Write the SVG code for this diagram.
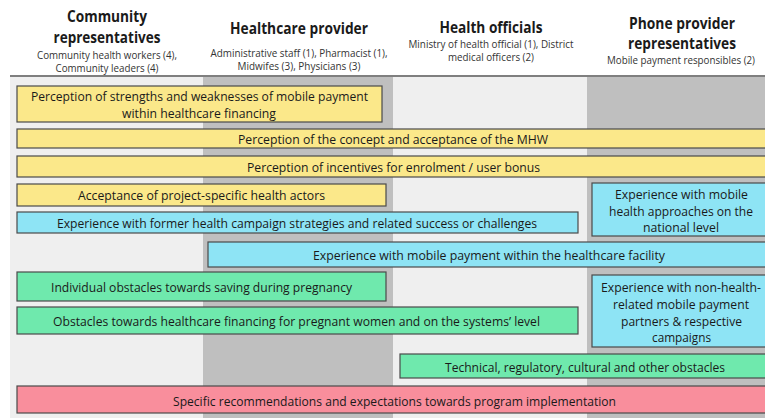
<svg xmlns="http://www.w3.org/2000/svg" width="765" height="418" viewBox="0 0 765 418">
  <style>
    text { font-family: "Open Sans", "Liberation Sans", sans-serif; fill: #1a1a1a; text-anchor: middle; }
    .title { font-size: 16.5px; font-weight: bold; }
    .sub { font-size: 10.5px; fill: #333; }
    .lbl { font-size: 13.5px; }
    .box { stroke: #4a4a4a; stroke-width: 1.2; }
    .yellow { fill: #fbe88a; }
    .cyan { fill: #8ee4f5; }
    .green { fill: #6fe9ad; }
    .pink { fill: #f98e9c; }
  </style>

  <!-- background -->
  <rect x="0" y="0" width="765" height="418" fill="#ffffff"/>

  <!-- stakeholder column bands -->
  <g id="columns">
    <rect x="10" y="77" width="193" height="341" fill="#efefef"/>
    <rect x="203" y="77" width="190" height="341" fill="#bfbfbf"/>
    <rect x="393" y="77" width="194" height="341" fill="#efefef"/>
    <rect x="587" y="77" width="178" height="341" fill="#bfbfbf"/>
    <line x1="10" y1="76" x2="765" y2="76" stroke="#555" stroke-width="1.5"/>
  </g>

  <!-- column headers -->
  <g id="header-community">
    <text class="title" x="107" y="22" textLength="80" lengthAdjust="spacingAndGlyphs">Community</text>
    <text class="title" x="107" y="43" textLength="107" lengthAdjust="spacingAndGlyphs">representatives</text>
    <text class="sub" x="107" y="59" textLength="140" lengthAdjust="spacingAndGlyphs">Community health workers (4),</text>
    <text class="sub" x="107" y="72" textLength="103" lengthAdjust="spacingAndGlyphs">Community leaders (4)</text>
  </g>
  <g id="header-healthcare">
    <text class="title" x="299" y="34" textLength="138" lengthAdjust="spacingAndGlyphs">Healthcare provider</text>
    <text class="sub" x="299" y="57" textLength="177" lengthAdjust="spacingAndGlyphs">Administrative staff (1), Pharmacist (1),</text>
    <text class="sub" x="299" y="70" textLength="123" lengthAdjust="spacingAndGlyphs">Midwifes (3), Physicians (3)</text>
  </g>
  <g id="header-officials">
    <text class="title" x="491" y="33" textLength="103" lengthAdjust="spacingAndGlyphs">Health officials</text>
    <text class="sub" x="491" y="48" textLength="165" lengthAdjust="spacingAndGlyphs">Ministry of health official (1), District</text>
    <text class="sub" x="491" y="61" textLength="86" lengthAdjust="spacingAndGlyphs">medical officers (2)</text>
  </g>
  <g id="header-phone">
    <text class="title" x="682" y="29" textLength="106" lengthAdjust="spacingAndGlyphs">Phone provider</text>
    <text class="title" x="682" y="49" textLength="108" lengthAdjust="spacingAndGlyphs">representatives</text>
    <text class="sub" x="681" y="64" textLength="148" lengthAdjust="spacingAndGlyphs">Mobile payment responsibles (2)</text>
  </g>

  <!-- theme bars -->
  <g id="strengths-weaknesses">
    <rect class="box yellow" x="17" y="86" width="365" height="36"/>
    <text class="lbl" x="199.5" y="101" textLength="337" lengthAdjust="spacingAndGlyphs">Perception of strengths and weaknesses of mobile payment</text>
    <text class="lbl" x="199" y="118" textLength="154" lengthAdjust="spacingAndGlyphs">within healthcare financing</text>
  </g>
  <g id="concept-acceptance">
    <rect class="box yellow" x="17" y="129" width="760" height="19"/>
    <text class="lbl" x="393" y="143.5" textLength="310" lengthAdjust="spacingAndGlyphs">Perception of the concept and acceptance of the MHW</text>
  </g>
  <g id="incentives">
    <rect class="box yellow" x="17" y="156" width="760" height="21"/>
    <text class="lbl" x="393.5" y="171.5" textLength="293" lengthAdjust="spacingAndGlyphs">Perception of incentives for enrolment / user bonus</text>
  </g>
  <g id="health-actors">
    <rect class="box yellow" x="17" y="184" width="369" height="22"/>
    <text class="lbl" x="201.5" y="200" textLength="247" lengthAdjust="spacingAndGlyphs">Acceptance of project-specific health actors</text>
  </g>
  <g id="former-campaigns">
    <rect class="box cyan" x="17" y="212" width="561" height="21"/>
    <text class="lbl" x="297" y="227.5" textLength="480" lengthAdjust="spacingAndGlyphs">Experience with former health campaign strategies and related success or challenges</text>
  </g>
  <g id="mobile-health-national">
    <rect class="box cyan" x="592" y="183" width="180" height="53"/>
    <text class="lbl" x="681.5" y="199" textLength="133" lengthAdjust="spacingAndGlyphs">Experience with mobile</text>
    <text class="lbl" x="681" y="215.5" textLength="144" lengthAdjust="spacingAndGlyphs">health approaches on the</text>
    <text class="lbl" x="681" y="232" textLength="76" lengthAdjust="spacingAndGlyphs">national level</text>
  </g>
  <g id="payment-facility">
    <rect class="box cyan" x="208" y="242" width="570" height="25"/>
    <text class="lbl" x="489" y="260" textLength="352" lengthAdjust="spacingAndGlyphs">Experience with mobile payment within the healthcare facility</text>
  </g>
  <g id="saving-obstacles">
    <rect class="box green" x="17" y="272" width="369" height="29"/>
    <text class="lbl" x="201.5" y="292" textLength="301" lengthAdjust="spacingAndGlyphs">Individual obstacles towards saving during pregnancy</text>
  </g>
  <g id="non-health-payment">
    <rect class="box cyan" x="592" y="275" width="180" height="72"/>
    <text class="lbl" x="681" y="292" textLength="160" lengthAdjust="spacingAndGlyphs">Experience with non-health-</text>
    <text class="lbl" x="681" y="308.5" textLength="136" lengthAdjust="spacingAndGlyphs">related mobile payment</text>
    <text class="lbl" x="681.5" y="325.5" textLength="121" lengthAdjust="spacingAndGlyphs">partners &amp; respective</text>
    <text class="lbl" x="681.5" y="342" textLength="59" lengthAdjust="spacingAndGlyphs">campaigns</text>
  </g>
  <g id="financing-obstacles">
    <rect class="box green" x="17" y="307" width="561" height="27"/>
    <text class="lbl" x="296.5" y="326" textLength="487" lengthAdjust="spacingAndGlyphs">Obstacles towards healthcare financing for pregnant women and on the systems’ level</text>
  </g>
  <g id="other-obstacles">
    <rect class="box green" x="400" y="354" width="370" height="24"/>
    <text class="lbl" x="585" y="372" textLength="280" lengthAdjust="spacingAndGlyphs">Technical, regulatory, cultural and other obstacles</text>
  </g>
  <g id="recommendations">
    <rect class="box pink" x="17" y="386" width="760" height="27"/>
    <text class="lbl" x="394.5" y="405.5" textLength="443" lengthAdjust="spacingAndGlyphs">Specific recommendations and expectations towards program implementation</text>
  </g>

  <!-- no connectors in this chart -->
  <g id="connectors"/>
</svg>
